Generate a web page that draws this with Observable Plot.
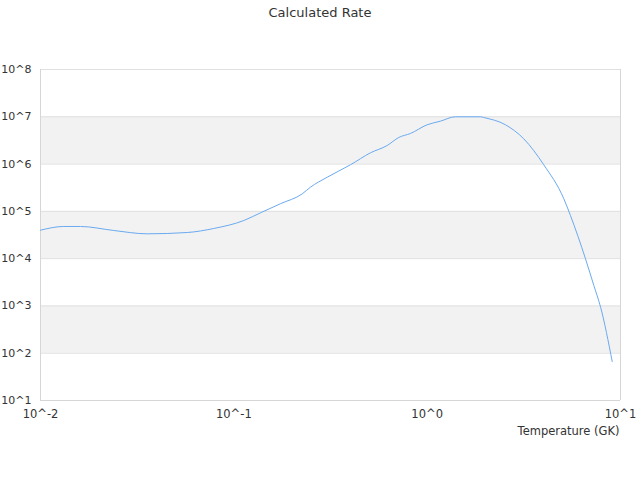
<!DOCTYPE html>
<html>
<head>
<meta charset="utf-8">
<script src="https://cdn.jsdelivr.net/npm/d3@7"></script>
<script src="https://cdn.jsdelivr.net/npm/@observablehq/plot@0.6"></script>
<style>
  body { margin: 0; background: #fff; font-family: "DejaVu Sans", sans-serif; }
  #title { height: 25px; line-height: 25px; text-align: center; font-size: 13px; color: #333; }
  svg { overflow: visible; }
</style>
</head>
<body>
<div id="title">Calculated Rate</div>
<div id="chart"></div>
<script>
// Temperature (GK)
const temperature = [0.01, 0.0132, 0.0161, 0.0239, 0.0356, 0.0574, 0.0787, 0.1127, 0.1374, 0.1742,
  0.226, 0.249, 0.304, 0.401, 0.509, 0.621, 0.713, 0.820, 1.0, 1.17, 1.40, 1.89, 1.96, 2.54,
  3.16, 4.01, 5.09, 5.51, 6.59, 7.28, 7.89, 9.06];
// Calculated rate
const rate = [4.0e4, 4.79e4, 4.79e4, 3.94e4, 3.35e4, 3.57e4, 4.34e4, 6.41e4, 9.31e4, 1.45e5,
  2.35e5, 3.24e5, 5.27e5, 9.66e5, 1.73e6, 2.47e6, 3.65e6, 4.44e6, 6.78e6, 8.07e6, 1.0e7, 1.0e7,
  9.66e6, 6.78e6, 3.42e6, 9.66e5, 1.85e5, 8.17e4, 9.93e3, 2.70e3, 9.40e2, 6.68e1];
const xTicks = [0.01, 0.1, 1, 10];
const yTicks = [1e1, 1e2, 1e3, 1e4, 1e5, 1e6, 1e7, 1e8];
const bandLows = [1e2, 1e4, 1e6];
const xLabel = "Temperature (GK)";

const data = temperature.map((t, i) => ({t, r: rate[i]}));
const bands = bandLows.map(lo => ({lo, hi: lo * 10}));
const fmt = d => `10^${Math.round(Math.log10(d))}`;

const chart = Plot.plot({
  width: 640,
  height: 440,
  marginTop: 44,
  marginBottom: 65,
  marginLeft: 40,
  marginRight: 20,
  style: {fontFamily: "DejaVu Sans, sans-serif", fontSize: "11px", color: "#333", background: "#fff", overflow: "visible"},
  x: {type: "log", domain: [0.01, 10]},
  y: {type: "log", domain: [10, 1e8]},
  marks: [
    Plot.rect(bands, {x1: 0.01, x2: 10, y1: "lo", y2: "hi", fill: "#f2f2f2"}),
    Plot.gridY(yTicks, {stroke: "#e0e0e0", strokeOpacity: 1}),
    Plot.ruleX([0.01, 10], {stroke: "#d6d6d6"}),
    Plot.ruleY([10], {stroke: "#d6d6d6"}),
    Plot.axisX(xTicks, {tickSize: 0, tickPadding: 9, tickFormat: fmt, label: null, fill: "#333", fontSize: 11.5}),
    Plot.axisY(yTicks, {tickSize: 0, tickPadding: 9, tickFormat: fmt, label: null, fill: "#333", fontSize: 11}),
    Plot.line(data, {x: "t", y: "r", stroke: "#6aaaf0", strokeWidth: 1, curve: "monotone-x"}),
    Plot.text([xLabel], {frameAnchor: "bottom-right", dy: 31, dx: -1, textAnchor: "end", lineAnchor: "middle", fontSize: 11.5, fill: "#333"})
  ]
});
document.getElementById("chart").appendChild(chart);
</script>
</body>
</html>
